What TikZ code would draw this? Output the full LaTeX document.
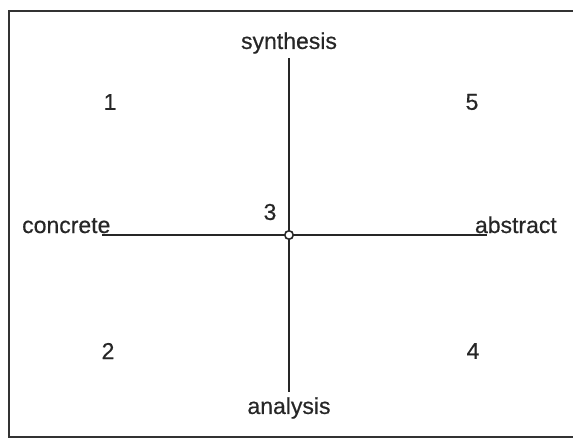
\documentclass[tikz,border=0pt]{standalone}
\usepackage{fontspec}
\setmainfont{Liberation Sans}
\newfontfamily\lblfont[FakeBold=0.5]{Liberation Sans}
\begin{document}
\begin{tikzpicture}[x=1pt,y=-1pt,
  lbl/.style={font=\lblfont\fontsize{23}{26}\selectfont, inner sep=0pt, text=black!85},
  axis/.style={line width=2.4pt, black!85}]
\useasboundingbox (0,0) rectangle (573,437);
\begin{scope}
\clip (0,0) rectangle (573,437);
\draw[line width=2.5pt, black!80] (9,11) rectangle (590,437);
\end{scope}
\coordinate (c) at (289,235);
\coordinate (top) at (289,58);
\coordinate (bot) at (289,392);
\coordinate (left) at (102,235);
\coordinate (right) at (487,235);
\draw[axis] (top) -- (bot);
\draw[axis] (left) -- (right);
\node[circle, draw=black!85, fill=white, line width=1.6pt, minimum size=8.5pt, inner sep=0pt] (o) at (c) {};
\node[lbl] (syn) at (289,43) {synthesis};
\node[lbl] (ana) at (289,408) {analysis};
\node[lbl, anchor=base west] (con) at (22,233) {concrete};
\node[lbl, anchor=base east] (abs) at (557,233) {abstract};
\node[lbl] (n3) at (270,212) {3};
\node[lbl] (n1) at (110,102) {1};
\node[lbl] (n5) at (472,102) {5};
\node[lbl] (n2) at (108,351) {2};
\node[lbl] (n4) at (473,351) {4};
\end{tikzpicture}
\end{document}
